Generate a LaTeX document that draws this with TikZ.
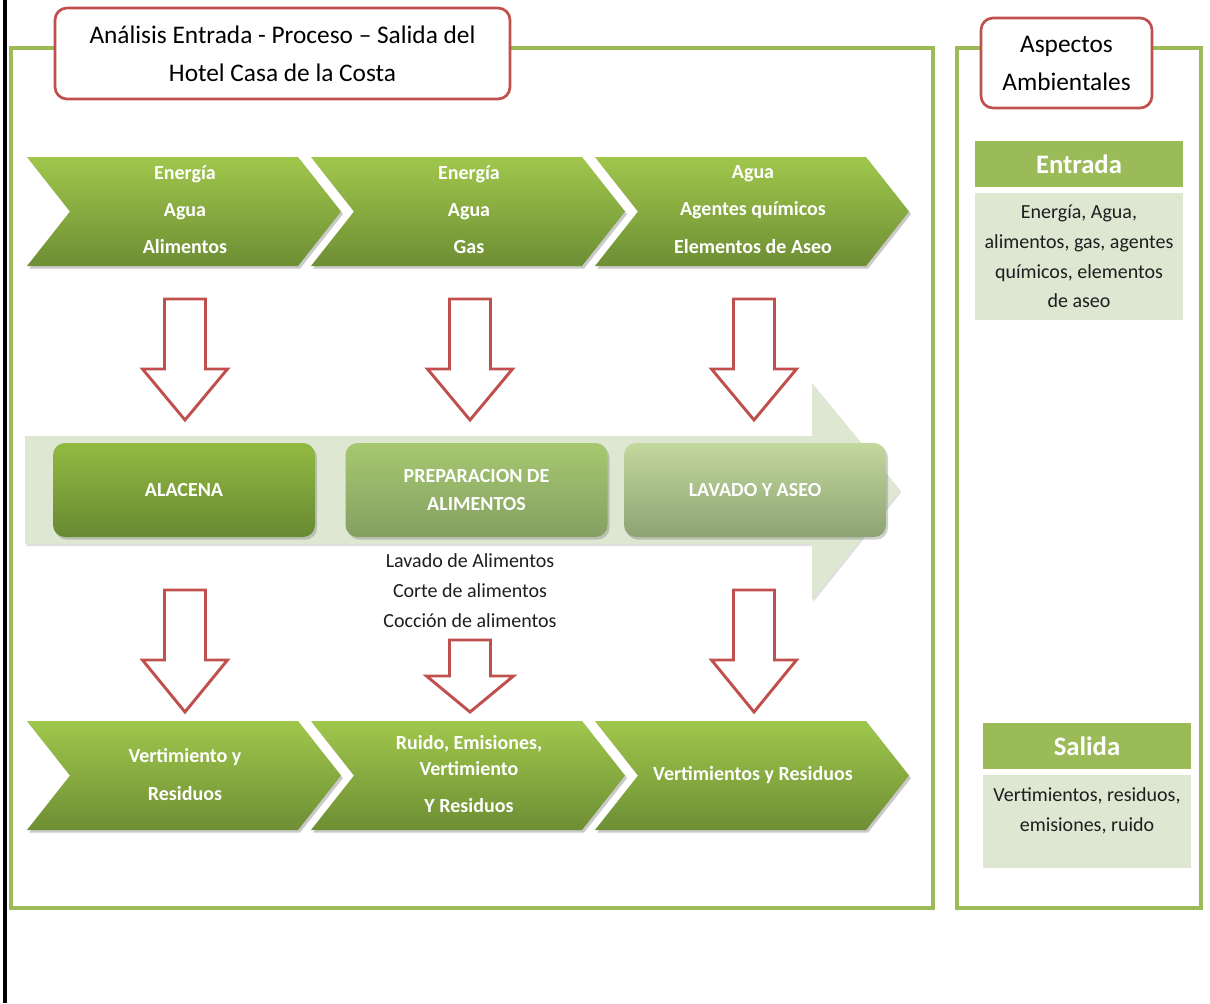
\documentclass[tikz,border=0pt]{standalone}
\usepackage{fontspec}
\setmainfont{Carlito}
\usetikzlibrary{shadows}

\definecolor{frameGreen}{RGB}{155,187,89}
\definecolor{titleRed}{RGB}{192,80,77}
\definecolor{chevTop}{RGB}{160,199,76}
\definecolor{chevBot}{RGB}{110,142,52}
\definecolor{paleGreen}{RGB}{222,231,210}
\definecolor{boxAtop}{RGB}{146,186,66}
\definecolor{boxAbot}{RGB}{104,137,50}
\definecolor{boxBtop}{RGB}{166,200,112}
\definecolor{boxBbot}{RGB}{132,160,98}
\definecolor{boxCtop}{RGB}{194,216,157}
\definecolor{boxCbot}{RGB}{142,163,116}
\definecolor{bodyText}{RGB}{30,30,30}

% down arrow outline: centre x, shaft top, head shoulder, tip, head half width
\newcommand\dnarrow[5]{%
  \draw[redarrow] (#1-20.5,#2) -- (#1+20.5,#2) -- (#1+20.5,#3) -- (#1+#5,#3)
    -- (#1,#4) -- (#1-#5,#3) -- (#1-20.5,#3) -- cycle;}

% chevron: left x, top y, bottom y
\newcommand\chevron[3]{%
  \shade[chevshade] (#1,#2) -- (#1+271,#2) -- (#1+314,{(#2+#3)/2}) -- (#1+271,#3)
    -- (#1,#3) -- (#1+43,{(#2+#3)/2}) -- cycle;}

\begin{document}
\begin{tikzpicture}[x=0.75pt,y=-0.75pt,
  frame/.style={draw=frameGreen,line width=2.6pt},
  titlebox/.style={draw=titleRed,line width=2pt,fill=white,rounded corners=9pt,
    align=center,font=\fontsize{19}{28.5}\selectfont,text=black},
  redarrow/.style={draw=titleRed,line width=2.2pt,fill=white,line join=miter},
  chevshade/.style={top color=chevTop,bottom color=chevBot,
    drop shadow={shadow xshift=1.5pt,shadow yshift=-2pt,opacity=0.35,fill=black!60}},
  chevtext/.style={text=white,align=center,font=\fontsize{15}{28}\selectfont\bfseries},
  procbox/.style={rounded corners=9pt,minimum width=196.5pt,minimum height=70.5pt,
    text=white,align=center,font=\fontsize{15}{20.5}\selectfont\bfseries,
    drop shadow={shadow xshift=1.5pt,shadow yshift=-2pt,opacity=0.3,fill=black!60}},
  headbox/.style={fill=frameGreen,minimum width=156pt,minimum height=34.5pt,
    text=white,font=\fontsize{20}{24}\selectfont\bfseries},
  bodybox/.style={fill=paleGreen,minimum width=156pt},
  bodytext/.style={text=bodyText,align=center,font=\fontsize{15}{22.3}\selectfont}]

\useasboundingbox (0,0) rectangle (1210,1003);
\fill[white] (0,0) rectangle (1210,1003);

% page rule on the left
\draw[black,line width=2.4pt] (5,0) -- (5,1003);

% outer frames
\draw[frame] (11,48) rectangle (933,908);
\draw[frame] (957,48) rectangle (1201,908);

% frame titles
\node[titlebox,minimum width=341.25pt,minimum height=68.25pt] (title) at (282.5,53.5)
  {Análisis Entrada - Proceso – Salida del\\Hotel Casa de la Costa};
\node[titlebox,minimum width=128.25pt,minimum height=67.5pt] (aspectos) at (1066.5,63)
  {Aspectos\\Ambientales};

% input chevrons
\chevron{27}{157}{266}
\chevron{311}{157}{266}
\chevron{595}{157}{266}
\node[chevtext] (in1) at (185,209.5) {Energía\\Agua\\Alimentos};
\node[chevtext] (in2) at (469,209.5) {Energía\\Agua\\Gas};
\node[chevtext] (in3) at (753,209.5) {Agua\\Agentes químicos\\Elementos de Aseo};

% arrows from inputs to process
\dnarrow{185}{299}{369}{420}{42.5}
\dnarrow{470}{299}{369}{420}{42.5}
\dnarrow{754}{299}{369}{420}{42.5}

% process band
\fill[paleGreen,drop shadow={shadow xshift=1pt,shadow yshift=-1.5pt,opacity=0.25,fill=black!50}]
  (25,436) -- (812,436) -- (812,383) -- (900,490) -- (812,600) -- (812,544) -- (25,544) -- cycle;

\node[procbox,top color=boxAtop,bottom color=boxAbot] (alacena) at (184,490) {ALACENA};
\node[procbox,top color=boxBtop,bottom color=boxBbot] (prep) at (476.5,490) {PREPARACION DE\\ALIMENTOS};
\node[procbox,top color=boxCtop,bottom color=boxCbot] (lavado) at (755,490) {LAVADO Y ASEO};

\node[bodytext,font=\fontsize{15}{22.5}\selectfont] (subprep) at (470,591)
  {Lavado de Alimentos\\Corte de alimentos\\Cocción de alimentos};

% arrows from process to outputs
\dnarrow{185}{590}{660}{712}{42.5}
\dnarrow{470}{640}{676}{712}{43.5}
\dnarrow{754}{590}{660}{712}{42.5}

% output chevrons
\chevron{27}{721}{830}
\chevron{311}{721}{830}
\chevron{595}{721}{830}
\node[chevtext] (out1) at (185,774.5) {Vertimiento y\\Residuos};
\node[chevtext,font=\fontsize{15}{20}\selectfont\bfseries] (out2a) at (469,755.5) {Ruido, Emisiones,\\Vertimiento};
\node[chevtext] (out2b) at (469,806) {Y Residuos};
\node[chevtext] (out3) at (753,775) {Vertimientos y Residuos};

% environmental aspects column
\node[headbox] (entrada) at (1079,164) {Entrada};
\node[bodybox,minimum height=95.25pt,bodytext] (entradabody) at (1079,256.5)
  {Energía, Agua,\\alimentos, gas, agentes\\químicos, elementos\\de aseo};

\node[headbox] (salida) at (1087,746) {Salida};
\node[bodybox,minimum height=69.75pt] (salidabody) at (1087,821.5) {};
\node[bodytext] (salidatext) at (1087,810.5) {Vertimientos, residuos,\\emisiones, ruido};

\end{tikzpicture}
\end{document}
